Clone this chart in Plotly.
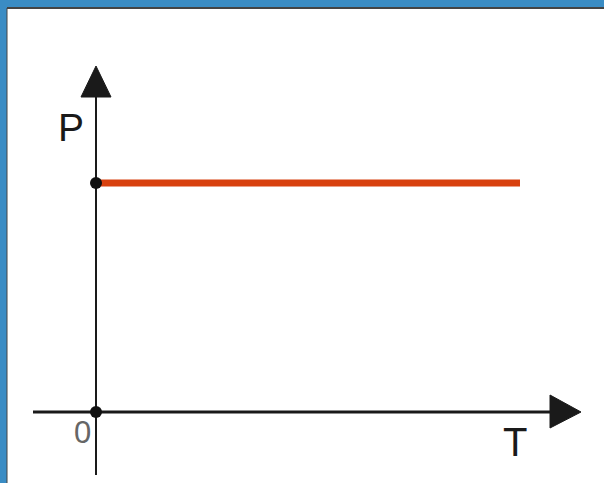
import plotly.graph_objects as go

# data: constant pressure vs temperature
T_values = [0, 10]
P_values = [1, 1]
marked_T = [0, 0]
marked_P = [1, 0]
axis_labels = ["P", "T"]
origin_label = "0"

# pixel layout of the reference (origin at 96,412; T=10 -> 520; P=1 -> 183)
W, H = 604, 483
ML, MT = 7, 8
ox, oy = 96, 412
kx = (520 - ox) / 10.0
ky = (oy - 183) / 1.0


def tx(px):
    return (px - ox) / kx


def py(pixel_y):
    return (oy - pixel_y) / ky


fig = go.Figure()

# axes lines
fig.add_trace(go.Scatter(x=[tx(33), tx(552)], y=[0, 0], mode="lines",
                         line=dict(color="#1a1a1a", width=3), hoverinfo="skip"))
fig.add_trace(go.Scatter(x=[0, 0], y=[py(95), py(475)], mode="lines",
                         line=dict(color="#1a1a1a", width=2), hoverinfo="skip"))

# arrow heads
fig.add_trace(go.Scatter(x=[tx(550), tx(581), tx(550), tx(550)],
                         y=[py(395), 0, py(428), py(395)],
                         mode="lines", fill="toself", fillcolor="#1a1a1a",
                         line=dict(color="#1a1a1a", width=1), hoverinfo="skip"))
fig.add_trace(go.Scatter(x=[tx(81), 0, tx(111), tx(81)],
                         y=[py(97), py(66), py(97), py(97)],
                         mode="lines", fill="toself", fillcolor="#1a1a1a",
                         line=dict(color="#1a1a1a", width=1), hoverinfo="skip"))

# isobar
fig.add_trace(go.Scatter(x=T_values, y=P_values, mode="lines",
                         line=dict(color="#d8410f", width=7), hoverinfo="skip"))

# points
fig.add_trace(go.Scatter(x=marked_T, y=marked_P, mode="markers",
                         marker=dict(color="#111111", size=12), hoverinfo="skip"))

fig.add_annotation(x=tx(71), y=py(127), text=axis_labels[0], showarrow=False,
                   font=dict(family="Liberation Sans, Arial", size=39, color="#1a1a1a"))
fig.add_annotation(x=tx(515), y=py(442), text=axis_labels[1], showarrow=False,
                   font=dict(family="Liberation Sans, Arial", size=40, color="#1a1a1a"))
fig.add_annotation(x=tx(82), y=py(432), text=origin_label, showarrow=False,
                   font=dict(family="Liberation Sans, Arial", size=31, color="#666666"))

# thin dark edge inside the blue frame
fig.add_shape(type="line", xref="paper", yref="paper", x0=0, x1=1, y0=1, y1=1,
              line=dict(color="#444444", width=2))
fig.add_shape(type="line", xref="paper", yref="paper", x0=0, x1=0, y0=0, y1=1,
              line=dict(color="#444444", width=1))

fig.update_xaxes(range=[tx(ML), tx(W)], visible=False, showgrid=False, zeroline=False)
fig.update_yaxes(range=[py(H), py(MT)], visible=False, showgrid=False, zeroline=False)
fig.update_layout(
    width=W, height=H,
    margin=dict(l=ML, r=0, t=MT, b=0, pad=0),
    paper_bgcolor="#3a8cc4",
    plot_bgcolor="white",
    showlegend=False,
)

fig.write_html("out.html", config={"displayModeBar": False},
               post_script="document.body.style.margin='0';document.body.style.overflow='hidden';")
